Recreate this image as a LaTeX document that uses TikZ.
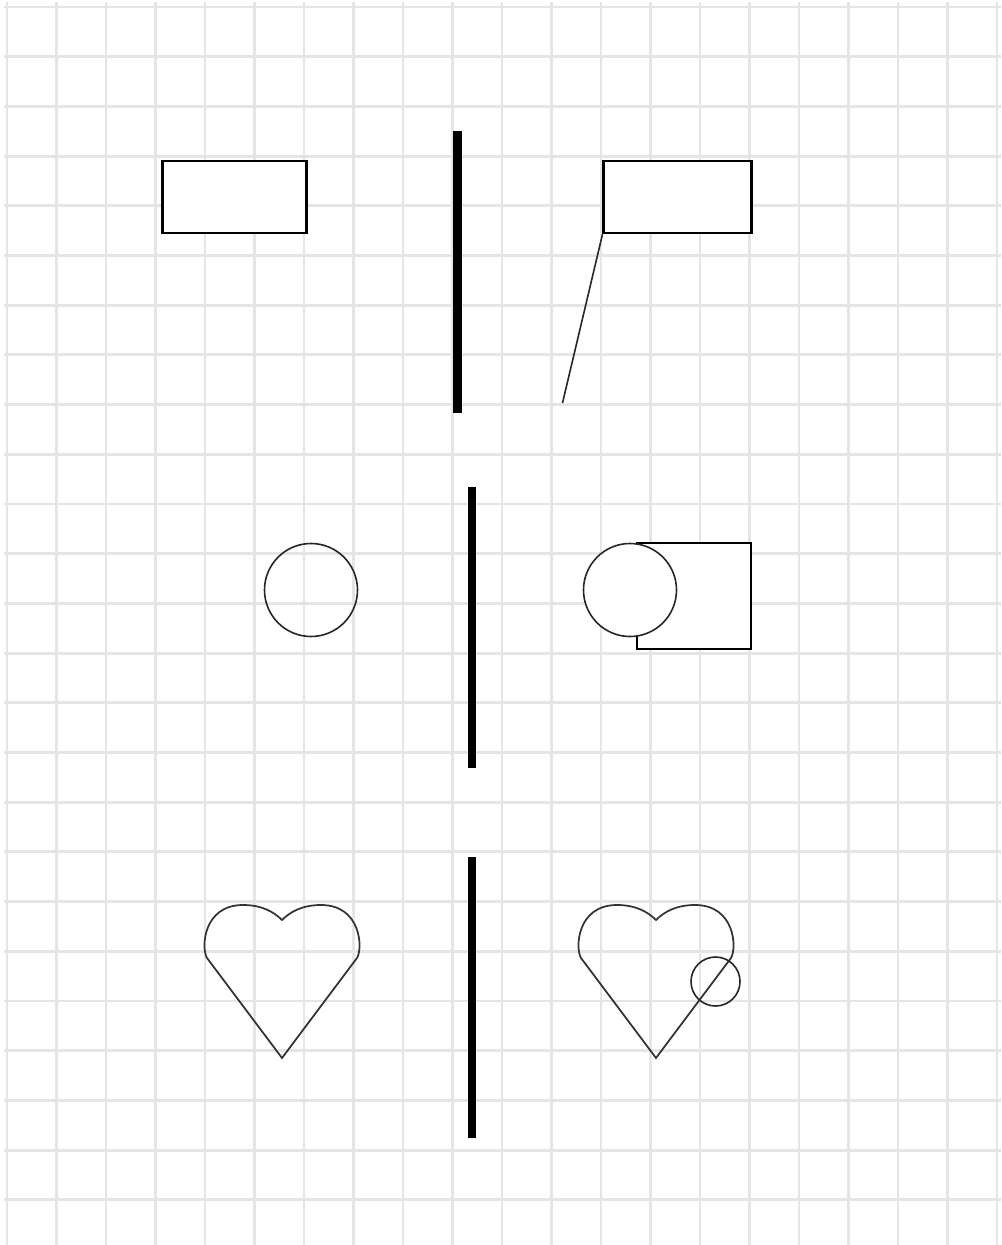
\documentclass[tikz,border=0pt]{standalone}
\usetikzlibrary{shapes.geometric}
\begin{document}
\begin{tikzpicture}[x=0.75pt,y=-0.75pt,
  gridline/.style={draw=black!10,line width=2.2pt},
  boxshape/.style={draw=black,line width=1.9pt,fill=white,rectangle,inner sep=0pt},
  ringshape/.style={draw=black!85,line width=1.2pt,circle,inner sep=0pt},
  bar/.style={draw=black,line width=6.6pt},
  thinline/.style={draw=black!85,line width=1.2pt},
  heartline/.style={draw=black!80,line width=1.3pt,line join=miter}]
\useasboundingbox (0,0) rectangle (1001,1245);
\fill[white] (0,0) rectangle (1001,1245);
% grid
\foreach \k in {0,...,20} {\draw[gridline] ({7+49.5*\k},2) -- ({7+49.5*\k},1245);}
\foreach \k in {0,...,24} {\draw[gridline] (4,{7+49.7*\k}) -- (1001,{7+49.7*\k});}
% bars
\coordinate (b1t) at (457.5,131); \coordinate (b1b) at (457.5,413);
\coordinate (b2t) at (472,487); \coordinate (b2b) at (472,768);
\coordinate (b3t) at (472,857); \coordinate (b3b) at (472,1138);
\draw[bar] (b1t) -- (b1b);
\draw[bar] (b2t) -- (b2b);
\draw[bar] (b3t) -- (b3b);
% row 1
\node[boxshape,minimum width=144.5*0.75pt,minimum height=72*0.75pt] (r1) at (234.5,197) {};
\node[boxshape,minimum width=147.5*0.75pt,minimum height=72*0.75pt] (r2) at (677.5,197) {};
\coordinate (lineend) at (562.5,403);
\draw[thinline] (r2.south west) -- (lineend);
% row 2
\node[ringshape,minimum size=93*0.75pt] (c1) at (311,590) {};
\node[boxshape,minimum width=114*0.75pt,minimum height=106*0.75pt] (r3) at (694,596) {};
\node[ringshape,fill=white,minimum size=93*0.75pt] (c2) at (630,590) {};
% row 3 hearts
\foreach \dx/\nm in {0/h1,374/h2} {
  \begin{scope}[xshift=\dx*0.75pt]
  \draw[heartline] (282,1058) -- (207,958)
    .. controls (201,948) and (203,905) .. (243,905)
    .. controls (262,905) and (274,912) .. (282,920)
    .. controls (290,912) and (302,905) .. (321,905)
    .. controls (361,905) and (363,948) .. (357,958)
    -- cycle;
  \coordinate (\nm) at (282,980);
  \end{scope}
}
\node[ringshape,minimum size=49*0.75pt] (c3) at (715.5,981.5) {};
\end{tikzpicture}
\end{document}
